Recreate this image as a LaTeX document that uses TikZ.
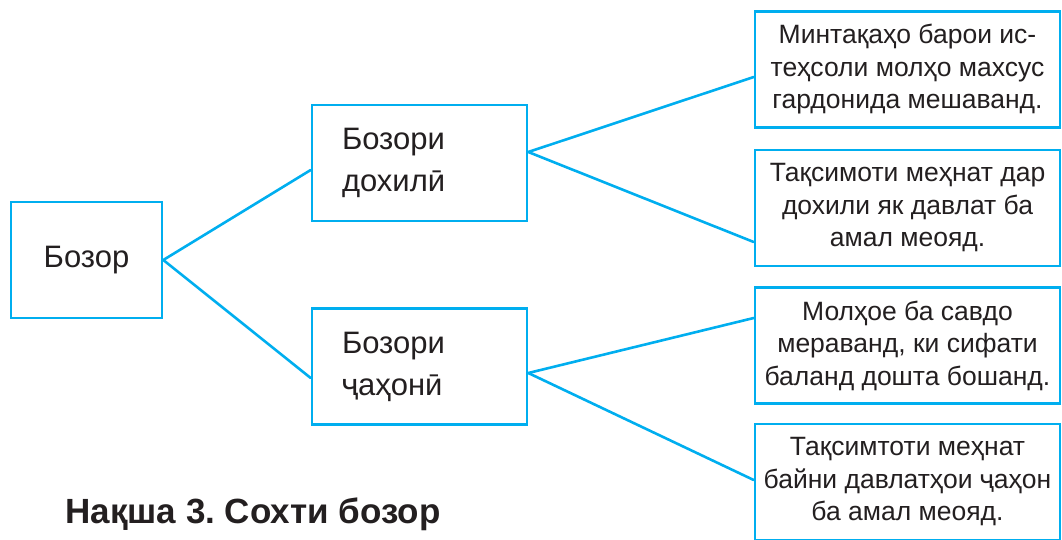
\documentclass[tikz,border=0pt]{standalone}
\usepackage{fontspec}
\setmainfont{Liberation Sans}
\frenchspacing
\definecolor{boxblue}{RGB}{0,174,239}
\definecolor{ink}{RGB}{35,31,32}
\begin{document}
\begin{tikzpicture}[x=1pt,y=-1pt,
  box/.style={draw=boxblue, line width=2.6pt, fill=white, text=ink, inner sep=0pt},
  rootbox/.style={box, minimum width=151pt, minimum height=116pt, font=\fontsize{31}{37}\selectfont},
  midbox/.style={box, minimum height=116pt, text width=155pt, inner xsep=30pt, align=left, font=\fontsize{31}{42}\selectfont},
  leafbox/.style={box, minimum width=305pt, minimum height=116pt, align=center, font=\fontsize{26.5}{32.5}\selectfont},
  link/.style={draw=boxblue, line width=2.6pt, line cap=round}]
\useasboundingbox (0,0) rectangle (1062,539);
\node[rootbox] (root) at (86.5,260) {Бозор};
\node[midbox] (dom) at (419.5,163) {Бозори\\дохилӣ};
\node[midbox] (world) at (419.5,366.5) {Бозори\\ҷаҳонӣ};
\node[leafbox] (r1) at (907.5,69.5) {Минтақаҳо барои ис-\\теҳсоли молҳо махсус\\гардонида мешаванд.};
\node[leafbox] (r2) at (907.5,208) {Тақсимоти меҳнат дар\\дохили як давлат ба\\амал меояд.};
\node[leafbox] (r3) at (907.5,345.5) {Молҳое ба савдо\\мераванд, ки сифати\\баланд дошта бошанд.};
\node[leafbox] (r4) at (907.5,482) {Тақсимтоти меҳнат\\байни давлатҳои ҷаҳон\\ба амал меояд.};
\node[text=ink, font=\bfseries\fontsize{35}{40}\selectfont, anchor=base west] (cap) at (62,523) {Нақша 3. Сохти бозор};
\draw[link] (root.east) -- ([yshift=-7pt]dom.west);
\draw[link] (root.east) -- ([yshift=-11.5pt]world.west);
\draw[link] ([yshift=11pt]dom.east) -- ([yshift=-7.5pt]r1.west);
\draw[link] ([yshift=11pt]dom.east) -- ([yshift=-34pt]r2.west);
\draw[link] ([yshift=-6.5pt]world.east) -- ([yshift=27.5pt]r3.west);
\draw[link] ([yshift=-6.5pt]world.east) -- ([yshift=2pt]r4.west);
\end{tikzpicture}
\end{document}
